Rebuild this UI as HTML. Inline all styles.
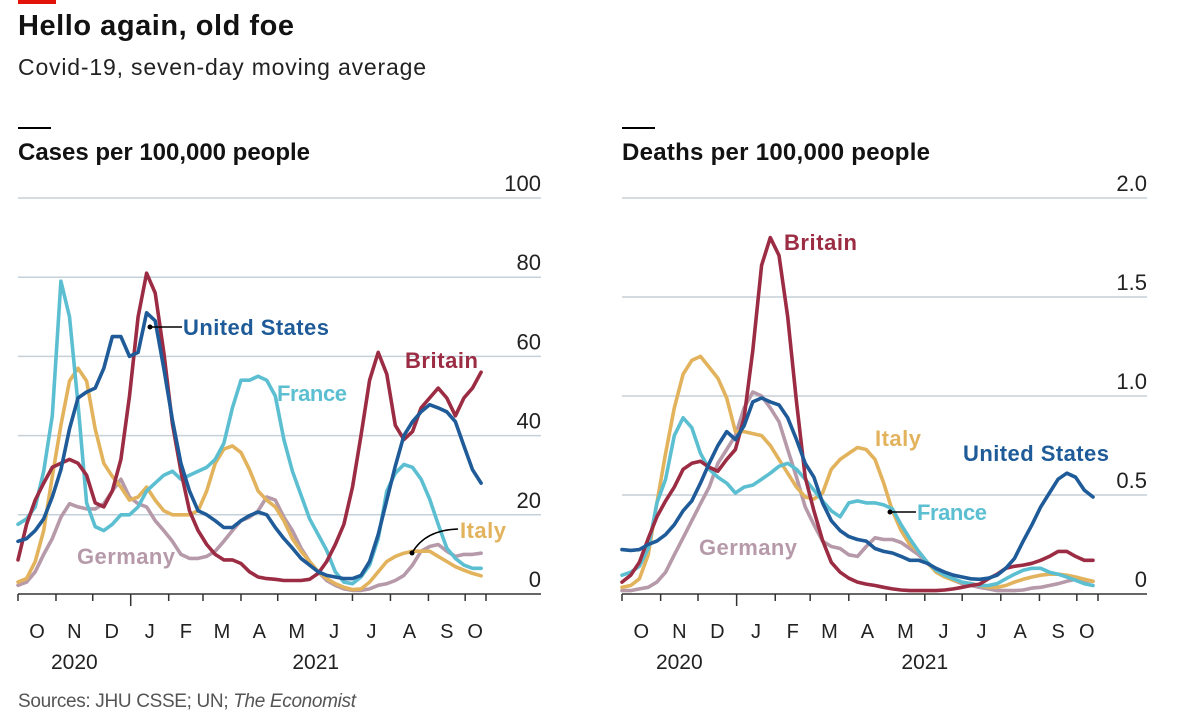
<!DOCTYPE html>
<html><head><meta charset="utf-8">
<style>
html,body{margin:0;padding:0;background:#fff;}
svg{display:block;font-family:"Liberation Sans",sans-serif;}
</style></head>
<body>
<svg id="chart" width="1200" height="728" viewBox="0 0 1200 728" xmlns="http://www.w3.org/2000/svg">
<rect x="18" y="0" width="38" height="4" fill="#e3120b"/>
<text x="18" y="35" font-size="29" font-weight="bold" fill="#121212" textLength="276">Hello again, old foe</text>
<text x="18" y="75" font-size="23" fill="#222" textLength="408">Covid-19, seven-day moving average</text>
<line x1="18" y1="128" x2="51" y2="128" stroke="#000" stroke-width="2"/>
<line x1="622" y1="128" x2="655" y2="128" stroke="#000" stroke-width="2"/>
<text x="18" y="160" font-size="24" font-weight="bold" fill="#121212" textLength="292">Cases per 100,000 people</text>
<text x="622" y="160" font-size="24" font-weight="bold" fill="#121212" textLength="308">Deaths per 100,000 people</text>
<g id="left"></g>
<g id="right"></g>
<text x="18" y="707" font-size="19" fill="#555" textLength="338">Sources: JHU CSSE; UN; <tspan font-style="italic">The Economist</tspan></text>
</svg>
<script>
const NS="http://www.w3.org/2000/svg";
const days=[0,7,14,21,28,35,42,49,56,63,70,77,84,91,98,105,112,119,126,133,140,147,154,161,168,175,182,189,196,203,210,217,224,231,238,245,252,259,266,273,280,287,294,301,308,315,322,329,336,343,350,357,364,371,378];
const monthLabels=["O","N","D","J","F","M","A","M","J","J","A","S","O"];
const monthStartDays=[0,31,61,92,123,151,182,212,243,273,304,335,365];
const casesTicks=[0,20,40,60,80,100];
const deathsTicks=[0,0.5,1.0,1.5,2.0];
const deathsTickLabels=["0","0.5","1.0","1.5","2.0"];

const casesFrance=[17.6,19,22,31,45,79,70,48,23,17,16,17.6,20,20,22,26,28,30,31,29,30,31,32,34,38,47,54,54,55,54,50,39,31,25,19,15,11,5.6,3,2.6,4.3,7.3,14,26,30.5,32.7,32,29,24,17.6,11.6,9,7.3,6.5,6.5];
const casesBritain=[8.6,17.6,23.7,28,32,33,34,33,30,23,22,26,34,50,70,81,76,61,43,31,21,16,12.5,10,8.6,8.6,7.7,5.6,4.3,3.9,3.7,3.4,3.4,3.4,3.7,5.2,8.2,12.5,17.6,27,40,54,61,55.5,42.6,39,41,47,49.5,52,49.5,45,49.5,52,56];
const casesUS=[13.3,14,16,19,24.5,31.4,41.7,49.5,51,52,57,65,65,60,61,71,69,57,44,33,26,21,20,18.5,16.8,16.8,18.5,19.8,20.7,20,16.8,14,11.6,9,7.3,5.6,4.7,4.3,3.9,3.9,4.7,8.2,15,23.7,32.3,40,43.5,46,47.8,47,46,43.5,37.4,31.4,28];
const casesItaly=[3,3.9,8.2,16,29.7,42.6,53.8,57,53.8,41.7,33,29.7,27,23.7,24.5,27,23.7,21,20,20,20,21,26,33,36.6,37.4,35.7,31.4,26,23.7,22,18.5,14,10.8,8.2,5.6,3.9,2.6,1.7,1.1,1.3,3,5.6,8.2,9.5,10.3,10.8,10.8,10.8,9.5,8.2,6.9,6,5.2,4.6];
const casesGermany=[2.2,3,5.6,10,14,19.4,22.8,22,21.5,21.5,22.8,26,29,24.5,22.8,22,18.5,16,13.3,10,9,9,9.5,10.8,13.3,16,18.5,19.4,21,24.5,23.7,19.4,16,11.6,8.2,5.6,3.4,2.2,1.3,0.9,0.9,1.3,2.2,2.6,3.4,4.7,7.3,10.8,12,12.5,10.8,9.5,10,10,10.3];

const deathsBritain=[.06,.095,.16,.28,.39,.47,.54,.63,.66,.67,.64,.62,.68,.73,.89,1.23,1.66,1.80,1.71,1.40,.97,.59,.42,.27,.16,.11,.08,.06,.05,.043,.034,.026,.02,.017,.017,.017,.017,.02,.026,.034,.043,.05,.077,.10,.13,.14,.146,.155,.17,.19,.215,.215,.19,.17,.17];
const deathsUS=[.224,.22,.224,.25,.267,.30,.35,.42,.47,.56,.66,.75,.82,.78,.85,.97,.99,.97,.955,.89,.78,.66,.59,.46,.37,.32,.29,.275,.267,.23,.215,.207,.19,.17,.17,.155,.13,.11,.095,.086,.077,.074,.08,.095,.13,.18,.267,.35,.44,.51,.58,.61,.59,.525,.49];
const deathsItaly=[.034,.043,.077,.198,.46,.71,.94,1.11,1.18,1.2,1.145,1.09,.99,.82,.82,.81,.80,.75,.68,.61,.54,.49,.48,.51,.63,.68,.71,.74,.73,.68,.56,.42,.32,.25,.215,.16,.11,.086,.069,.06,.052,.043,.034,.034,.043,.06,.074,.086,.095,.10,.10,.095,.086,.074,.064];
const deathsFrance=[.095,.11,.14,.23,.46,.58,.80,.89,.84,.71,.63,.59,.56,.51,.54,.55,.58,.61,.645,.66,.63,.58,.525,.47,.42,.39,.46,.47,.46,.46,.45,.43,.35,.28,.215,.16,.12,.095,.077,.06,.052,.043,.043,.052,.077,.10,.12,.13,.13,.11,.10,.086,.069,.052,.043];
const deathsGermany=[.017,.017,.026,.034,.06,.11,.198,.284,.37,.456,.54,.66,.73,.80,.94,1.02,1.0,.94,.87,.73,.59,.44,.35,.267,.24,.23,.198,.19,.24,.284,.275,.275,.26,.23,.198,.155,.12,.095,.069,.052,.043,.034,.026,.017,.017,.017,.02,.03,.034,.043,.052,.064,.074,.069,.064];

const COL={britain:"#9b2c43",us:"#1e5b98",france:"#5cbfd1",italy:"#e2b35c",germany:"#b69aa9"};

function mk(parent,tag,attrs){const e=document.createElementNS(NS,tag);for(const k in attrs)e.setAttribute(k,attrs[k]);parent.appendChild(e);return e;}

function buildPanel(g,cfg){
  const x=d=>cfg.x0+(d/382)*(cfg.xEnd-cfg.x0);
  const y=v=>594-(v/cfg.yMax)*396;
  cfg.ticks.forEach((t,i)=>{
    if(t>0){
      const gl=mk(g,"line",{x1:cfg.x0,x2:cfg.gridEnd,y1:y(t),y2:y(t),stroke:"#c6d0d8","stroke-width":1.5});
      
      
    }
    const tl=mk(g,"text",{x:cfg.gridEnd,y:y(t)-7,"text-anchor":"end","font-size":22,fill:"#222"});
    
    
    tl.textContent=cfg.tickLabels[i];
  });
  const ax=mk(g,"line",{x1:cfg.x0,x2:cfg.gridEnd,y1:594,y2:594,stroke:"#333","stroke-width":1.5});
  
  
  monthStartDays.forEach((d,i)=>{
    const tk=mk(g,"line",{x1:x(d),x2:x(d),y1:594,y2:i===3?606:601,stroke:"#333","stroke-width":1.5});
    
    
    const next=i<monthStartDays.length-1?monthStartDays[i+1]:382;
    const ml=mk(g,"text",{x:i===12?x(d)+10:x((d+next)/2),y:638,"text-anchor":"middle","font-size":20,fill:"#222"});
    
    
    ml.textContent=monthLabels[i];
  });
  const endTk=mk(g,"line",{x1:x(382),x2:x(382),y1:594,y2:601,stroke:"#333","stroke-width":1.5});
  
  
  const y1=mk(g,"text",{x:x(46),y:669,"text-anchor":"middle","font-size":21,fill:"#222"});
  
  
  y1.textContent="2020";
  const y2=mk(g,"text",{x:x(243),y:669,"text-anchor":"middle","font-size":21,fill:"#222"});
  
  
  y2.textContent="2021";
  cfg.series.forEach(s=>{
    const n=Math.min(days.length,s.vals.length);
    let dStr="";
    for(let i=0;i<n;i++)dStr+=(i?"L":"M")+x(days[i]).toFixed(1)+","+y(s.vals[i]).toFixed(1);
    const p=mk(g,"path",{d:dStr,fill:"none",stroke:s.color,"stroke-width":3.6,"stroke-linejoin":"round","stroke-linecap":"round"});
    
    
  });
}

const L=document.getElementById("left"), R=document.getElementById("right");
buildPanel(L,{x0:18,xEnd:486,gridEnd:541,yMax:100,ticks:casesTicks,tickLabels:casesTicks.map(String),
  series:[{name:"germany-cases-line",vals:casesGermany,color:COL.germany},{name:"italy-cases-line",vals:casesItaly,color:COL.italy},{name:"france-cases-line",vals:casesFrance,color:COL.france},{name:"britain-cases-line",vals:casesBritain,color:COL.britain},{name:"us-cases-line",vals:casesUS,color:COL.us}]});
buildPanel(R,{x0:622,xEnd:1098,gridEnd:1147,yMax:2,ticks:deathsTicks,tickLabels:deathsTickLabels,
  series:[{name:"germany-deaths-line",vals:deathsGermany,color:COL.germany},{name:"italy-deaths-line",vals:deathsItaly,color:COL.italy},{name:"france-deaths-line",vals:deathsFrance,color:COL.france},{name:"britain-deaths-line",vals:deathsBritain,color:COL.britain},{name:"us-deaths-line",vals:deathsUS,color:COL.us}]});
</script>
<div style="position:absolute;left:0;top:0;width:1200px;height:728px;pointer-events:none">
<svg width="1200" height="728" style="font-family:'Liberation Sans',sans-serif">
<line x1="150" y1="327" x2="182" y2="327" stroke="#000" stroke-width="1.5"/>
<circle cx="150" cy="327" r="2.5" fill="#000"/>
<text x="183" y="335" font-size="22" font-weight="bold" fill="#1e5b98" textLength="146">United States</text>
<text x="277" y="401" font-size="22" font-weight="bold" fill="#5cbfd1" textLength="70">France</text>
<text x="405" y="368" font-size="22" font-weight="bold" fill="#9b2c43" textLength="73">Britain</text>
<text x="77" y="564" font-size="22" font-weight="bold" fill="#b69aa9" textLength="98">Germany</text>
<path d="M412,553 Q425,530 458,529" fill="none" stroke="#000" stroke-width="1.5"/>
<circle cx="412" cy="553" r="2.5" fill="#000"/>
<text x="460" y="538" font-size="22" font-weight="bold" fill="#e2b35c" textLength="46">Italy</text>
<text x="784" y="250" font-size="22" font-weight="bold" fill="#9b2c43" textLength="73">Britain</text>
<text x="875" y="446" font-size="22" font-weight="bold" fill="#e2b35c" textLength="46">Italy</text>
<text x="963" y="461" font-size="22" font-weight="bold" fill="#1e5b98" textLength="146">United States</text>
<line x1="890" y1="512" x2="916" y2="512" stroke="#000" stroke-width="1.5"/>
<circle cx="890" cy="512" r="2.5" fill="#000"/>
<text x="917" y="520" font-size="22" font-weight="bold" fill="#5cbfd1" textLength="70">France</text>
<text x="699" y="555" font-size="22" font-weight="bold" fill="#b69aa9" textLength="98">Germany</text>
</svg></div>
</body></html>
